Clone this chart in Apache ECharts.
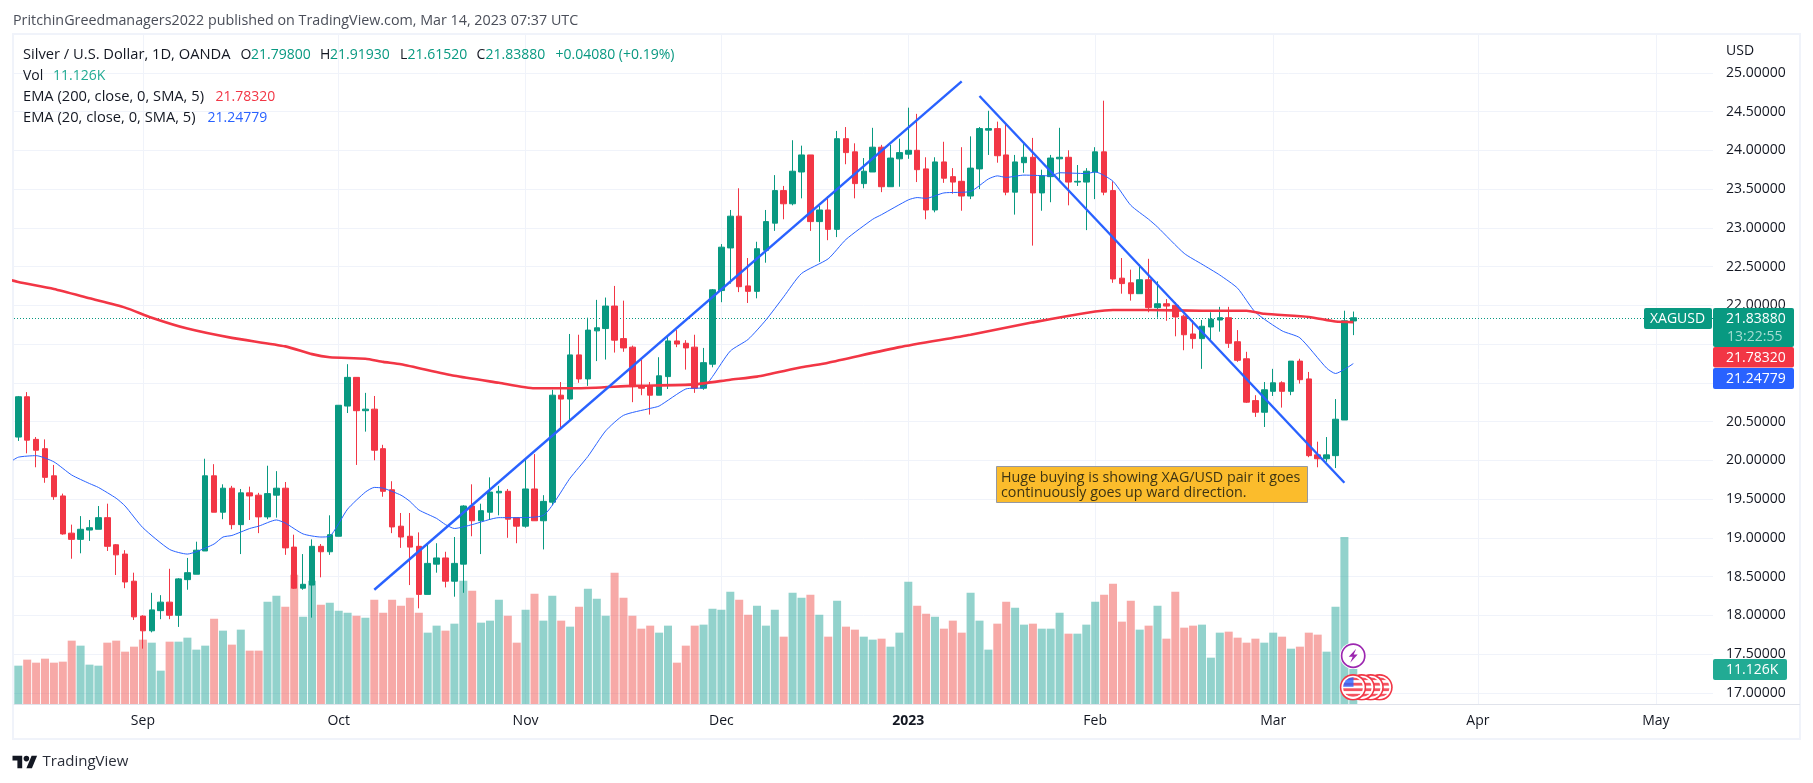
<!DOCTYPE html>
<html><head><meta charset="utf-8"><title>XAGUSD</title>
<style>html,body{margin:0;padding:0;background:#fff}#c{width:1813px;height:783px}</style>
<script src="https://cdn.jsdelivr.net/npm/echarts@6/dist/echarts.min.js"></script>
</head><body><div id="c"></div>
<script>
// [open, close, low, high]
const candles=[
[20.30,20.82,20.25,20.83],[20.82,20.26,20.09,20.88],[20.27,20.13,19.91,20.30],[20.15,19.78,19.71,20.27],[19.80,19.53,19.49,19.94],
[19.54,19.05,19.04,19.57],[19.06,18.98,18.73,19.17],[18.98,19.11,18.80,19.28],[19.10,19.13,18.96,19.23],[19.11,19.26,19.11,19.41],
[19.26,18.89,18.83,19.44],[18.91,18.78,18.52,18.92],[18.79,18.43,18.35,18.84],[18.44,17.98,17.94,18.55],[17.99,17.80,17.57,18.00],
[17.80,18.07,17.78,18.29],[18.06,18.17,17.95,18.26],[18.17,18.00,17.95,18.60],[18.00,18.47,17.85,18.48],[18.46,18.55,18.33,18.74],
[18.53,18.84,18.53,18.95],[18.83,19.80,18.83,20.02],[19.80,19.33,19.33,19.95],[19.33,19.64,19.24,19.69],[19.64,19.17,19.11,19.67],
[19.17,19.58,18.79,19.63],[19.58,19.54,19.23,19.66],[19.55,19.27,19.06,19.58],[19.27,19.57,19.24,19.93],[19.55,19.64,19.26,19.86],
[19.64,18.87,18.78,19.72],[18.88,18.35,18.34,19.04],[18.35,18.40,18.33,18.79],[18.39,18.89,17.97,18.98],[18.89,18.82,18.49,18.92],
[18.82,19.04,18.78,19.29],[19.02,20.71,19.02,20.71],[20.70,21.07,20.61,21.24],[21.07,20.64,19.94,21.07],[20.64,20.66,20.37,20.87],
[20.66,20.13,20.00,20.83],[20.15,19.60,19.53,20.20],[19.62,19.14,19.06,19.73],[19.15,19.01,18.87,19.32],[19.02,18.88,18.39,19.32],
[18.89,18.27,18.09,19.07],[18.27,18.67,18.27,18.92],[18.66,18.74,18.55,18.93],[18.74,18.44,18.36,18.82],[18.44,18.67,18.24,19.01],
[18.66,19.41,18.29,19.42],[19.41,19.22,19.02,19.69],[19.22,19.35,18.79,19.44],[19.33,19.59,19.23,19.78],[19.58,19.60,19.29,19.67],
[19.60,19.24,19.00,19.63],[19.26,19.15,18.93,19.26],[19.15,19.63,19.13,20.02],[19.63,19.22,19.22,20.08],[19.22,19.47,18.85,19.55],
[19.46,20.84,19.42,20.91],[20.84,20.79,20.39,21.01],[20.79,21.36,20.50,21.63],[21.36,21.05,21.00,21.62],[21.05,21.68,20.96,21.84],
[21.67,21.71,21.28,22.07],[21.70,21.99,21.30,22.10],[21.99,21.55,21.39,22.25],[21.57,21.45,21.40,22.06],[21.46,20.95,20.75,21.48],
[20.96,20.93,20.84,21.30],[20.96,20.84,20.59,21.01],[20.84,21.09,20.84,21.33],[21.08,21.54,20.92,21.60],[21.54,21.50,21.46,21.68],
[21.51,21.45,21.17,21.55],[21.46,20.93,20.87,21.62],[20.93,21.26,20.91,21.45],[21.24,22.20,21.20,22.21],[22.19,22.75,22.04,22.79],
[22.74,23.15,22.28,23.23],[23.15,22.24,22.17,23.51],[22.25,22.18,22.03,22.61],[22.18,22.73,22.09,22.82],[22.71,23.08,22.55,23.23],
[23.06,23.48,22.96,23.68],[23.48,23.31,23.11,23.54],[23.31,23.73,23.29,24.13],[23.72,23.94,23.38,24.06],[23.94,23.08,22.96,23.94],
[23.08,23.23,22.56,23.28],[23.23,22.98,22.84,23.41],[22.98,24.15,22.88,24.25],[24.15,23.97,23.82,24.30],[23.98,23.57,23.38,24.09],
[23.57,23.73,23.51,23.90],[23.72,24.04,23.72,24.29],[24.04,23.53,23.46,24.07],[23.53,23.90,23.53,24.07],[23.89,23.97,23.53,24.15],
[23.95,24.00,23.89,24.55],[24.00,23.75,23.59,24.47],[23.76,23.23,23.11,23.91],[23.23,23.85,23.20,23.91],[23.85,23.64,23.58,24.11],
[23.66,23.59,23.44,23.77],[23.60,23.41,23.22,24.04],[23.41,23.77,23.37,24.18],[23.76,24.28,23.50,24.30],[24.26,24.28,23.94,24.51],
[24.28,23.93,23.84,24.37],[23.94,23.46,23.42,24.35],[23.46,23.85,23.17,23.94],[23.84,23.91,23.71,24.08],[23.91,23.45,22.77,24.16],
[23.45,23.67,23.22,23.75],[23.66,23.90,23.33,23.94],[23.89,23.91,23.59,24.29],[23.91,23.59,23.29,24.00],[23.59,23.60,23.54,23.81],
[23.59,23.73,22.97,23.77],[23.72,23.98,23.37,24.04],[23.98,23.46,23.42,24.64],[23.48,22.34,22.29,23.60],[22.35,22.28,22.15,22.61],
[22.29,22.15,22.06,22.46],[22.15,22.33,22.15,22.53],[22.33,21.97,21.91,22.60],[21.97,22.02,21.84,22.31],[22.02,21.99,21.80,22.08],
[22.00,21.85,21.60,22.04],[21.86,21.62,21.42,21.88],[21.63,21.57,21.44,21.81],[21.57,21.73,21.18,21.81],[21.72,21.82,21.55,21.91],
[21.81,21.84,21.66,21.98],[21.84,21.51,21.45,21.98],[21.53,21.29,21.27,21.68],[21.31,20.75,20.74,21.40],[20.77,20.62,20.56,20.84],
[20.62,20.91,20.43,21.01],[20.89,21.00,20.83,21.18],[21.00,20.89,20.68,21.02],[20.89,21.28,20.84,21.28],[21.28,21.04,20.99,21.31],
[21.05,20.06,20.04,21.14],[20.07,20.02,19.91,20.24],[20.02,20.07,19.98,20.30],[20.06,20.53,19.90,20.79],[20.52,21.80,20.52,21.93],
[21.798,21.8388,21.6152,21.9193]];
// thousands of units
const volumes=[
12.19,14.10,13.14,14.41,13.14,13.46,20.14,18.55,12.51,12.19,19.50,20.14,16.64,18.23,20.46,19.50,10.60,19.82,19.82,21.09,
17.28,18.55,27.13,23.32,18.87,23.64,16.96,16.96,32.54,34.45,30.95,41.12,27.77,39.22,31.58,32.22,29.68,29.04,28.09,27.45,
33.17,29.04,33.17,31.27,33.81,29.04,22.68,24.91,23.32,25.54,39.22,36.04,25.86,26.50,33.17,28.09,19.50,30.00,35.08,26.50,
34.45,26.50,24.59,30.95,36.67,33.49,28.09,41.76,33.81,28.09,23.95,24.91,22.68,24.91,13.14,18.55,24.91,25.23,30.31,30.00,
35.72,33.17,28.40,31.27,24.91,30.00,21.41,35.40,33.81,34.76,28.40,21.41,32.86,24.59,23.64,21.41,20.46,20.77,18.23,22.68,
38.90,31.27,28.72,27.77,23.95,26.50,22.68,35.40,26.50,17.28,25.54,32.54,30.63,25.23,25.54,23.95,23.95,29.04,22.36,22.36,
25.23,32.54,34.76,38.26,26.18,32.86,23.64,24.91,31.27,20.77,35.72,24.27,24.91,25.23,14.73,22.68,23.00,21.09,19.50,20.77,
19.50,22.68,21.41,17.59,18.23,22.68,22.05,16.64,30.95,53.10,11.126];
// [bar index, value]
const ema200=[[-1,22.33],[0,22.30],[4,22.21],[8,22.09],[12,21.97],[15,21.84],[19,21.70],[24,21.58],[30,21.47],[33,21.37],[35,21.33],[39,21.31],[41,21.27],[43,21.24],[49,21.09],[54,21.00],[58,20.93],[63,20.93],[69,20.96],[76,20.98],[80,21.04],[83,21.08],[88,21.20],[91,21.26],[99,21.46],[107,21.62],[114,21.78],[121,21.92],[123,21.94],[127,21.94],[133,21.93],[138,21.93],[140,21.89],[145,21.85],[148,21.79],[150,21.7832]];
const ema20=[[-1,19.97],[0,20.04],[2,20.06],[4,19.98],[6,19.81],[8,19.70],[9,19.65],[11,19.51],[12,19.41],[14,19.13],[17,18.85],[19,18.79],[20,18.82],[22,18.92],[23,19.01],[24,19.03],[26,19.12],[27,19.15],[29,19.23],[30,19.19],[32,19.05],[34,19.01],[35,19.02],[37,19.37],[39,19.59],[40,19.65],[41,19.64],[43,19.55],[44,19.47],[45,19.36],[47,19.25],[48,19.17],[49,19.12],[51,19.17],[54,19.26],[56,19.26],[59,19.29],[62,19.77],[64,20.05],[66,20.38],[68,20.58],[71,20.67],[72,20.70],[75,20.92],[77,20.94],[78,21.08],[80,21.41],[82,21.56],[84,21.81],[86,22.11],[88,22.41],[91,22.60],[93,22.85],[96,23.11],[97,23.17],[100,23.36],[101,23.39],[102,23.38],[104,23.45],[107,23.47],[109,23.63],[110,23.67],[111,23.65],[113,23.68],[116,23.67],[117,23.71],[120,23.70],[121,23.72],[123,23.60],[125,23.29],[127,23.11],[128,23.01],[131,22.67],[133,22.53],[135,22.39],[137,22.22],[139,21.91],[142,21.67],[144,21.58],[147,21.19],[148,21.12],[150,21.24779]];
const trendUp=[[40,18.33],[106,24.89]];
const trendDown=[[108,24.70],[149,19.71]];
const monthTickIdx=[14,36,57,79,100,121,141,164,184];
const monthTickLabels=['Sep','Oct','Nov','Dec','2023','Feb','Mar','Apr','May'];
const priceTicks=[17,17.5,18,18.5,19,19.5,20,20.5,21,21.5,22,22.5,23,23.5,24,24.5,25];
const lastPriceLine=21.8295;
const headerText='PritchinGreedmanagers2022 published on TradingView.com, Mar 14, 2023 07:37 UTC';
const noteLines=['Huge buying is showing XAG/USD pair it goes','continuously goes up ward direction.'];

const UP='#089981',DOWN='#F23645',GRID='#F0F3FA',INK='#131722',FONT='"Open Sans"';
const xMin=-0.483,xMax=190.416,priceMin=16.8555,priceMax=25.4877,volMax=212.7;

const volData=volumes.map((v,i)=>({value:[i,v],itemStyle:{color:candles[i][1]>=candles[i][0]?'rgba(38,166,154,0.5)':'rgba(239,83,80,0.5)'}}));
const candleData=candles.map((c,i)=>[i,c[0],c[1],c[2],c[3]]);

function txt(text,x,y,fill,size,extra){return Object.assign({type:'text',z:100,silent:true,style:Object.assign({text,x,y:y+1,fill,font:(size||14)+'px '+FONT,textVerticalAlign:'middle'},extra||{})});}
function tag(x,y,w,h,fill){return {type:'rect',z:90,silent:true,shape:{x,y,width:w,height:h,r:2},style:{fill}};}

const flagSvg='<svg xmlns="http://www.w3.org/2000/svg" width="54" height="54" viewBox="0 0 27 27"><circle cx="13.5" cy="13.5" r="13.2" fill="#F23645"/><circle cx="13.5" cy="13.5" r="11.6" fill="#fff"/><clipPath id="a"><circle cx="13.5" cy="13.5" r="10"/></clipPath><g clip-path="url(#a)"><rect width="27" height="27" fill="#fff"/><g fill="#F23645" opacity=".85"><rect y="3.5" width="27" height="2.8"/><rect y="9" width="27" height="2.8"/><rect y="14.5" width="27" height="2.8"/><rect y="20" width="27" height="2.8"/></g><rect x="3" y="3" width="11" height="10" fill="#2962FF" opacity=".8"/></g></svg>';
const boltSvg='<svg xmlns="http://www.w3.org/2000/svg" width="54" height="54" viewBox="0 0 27 27"><circle cx="13.5" cy="13.5" r="13.3" fill="#fff"/><circle cx="13.5" cy="13.5" r="11.6" fill="#fff" stroke="#9C27B0" stroke-width="1.7"/><path d="M16.5 6.5 L9 14.6 H13 L10.5 20.5 L18 12.4 H14 Z" fill="#9C27B0"/></svg>';
const uri=s=>'data:image/svg+xml,'+encodeURIComponent(s);
const flagImg=x=>({type:'image',z:95,silent:true,style:{image:uri(flagSvg),x,y:673.8,width:27,height:27}});

const graphics=[
 {type:'rect',z:0,silent:true,shape:{x:13,y:34,width:1787,height:705},style:{fill:'none',stroke:GRID,lineWidth:2}},
 {type:'line',z:1,silent:true,shape:{x1:1713,y1:704.5,x2:1800,y2:704.5},style:{stroke:'#E0E3EB',lineWidth:1}},
 txt(headerText,13,20,'#4A4E59',14.3),
 txt('Silver / U.S. Dollar, 1D, OANDA',23,54,INK,14.7),
 txt('O',240.5,54,INK,14),txt('21.79800',251,54,UP,14),
 txt('H',320,54,INK,14),txt('21.91930',330,54,UP,14),
 txt('L',400,54,INK,14),txt('21.61520',407.5,54,UP,14),
 txt('C',476.5,54,INK,14),txt('21.83880',485.5,54,UP,14),
 txt('+0.04080 (+0.19%)',555.5,54,UP,14),
 txt('Vol',23,75,INK,14),txt('11.126K',53,75,'#22AB94',14),
 txt('EMA (200, close, 0, SMA, 5)',23,96,INK,14.7),txt('21.78320',215.5,96,DOWN,14),
 txt('EMA (20, close, 0, SMA, 5)',23,117,INK,14.7),txt('21.24779',207.5,117,'#2962FF',14),
 txt('USD',1726,50.5,INK,14),
 tag(1644,308,68,21,UP),txt('XAGUSD',1650,318.5,'#fff',14),
 tag(1713,308,81,39,UP),txt('21.83880',1726,318.5,'#fff',14),txt('13:22:55',1727,336.5,'#A8DDD3',14),
 tag(1713,347,81,20.5,DOWN),txt('21.78320',1726,357,'#fff',14),
 tag(1713,368,81,21,'#2962FF'),txt('21.24779',1726,378.5,'#fff',14),
 tag(1713,659,74,21,'#22AB94'),txt('11.126K',1726,669.5,'#fff',14),
 {type:'rect',z:90,silent:true,shape:{x:996.5,y:466.5,width:311,height:36},style:{fill:'#FBBC2C',stroke:'#9598A1',lineWidth:1}},
 txt(noteLines[0],1001,476.7,'#3D3413',14.3),txt(noteLines[1],1001,491.7,'#3D3413',14.3),
 flagImg(1366),flagImg(1357.1),flagImg(1348.2),flagImg(1339.5),
 {type:'image',z:96,silent:true,style:{image:uri(boltSvg),x:1339.7,y:642.2,width:27,height:27}},
 {type:'polygon',z:100,silent:true,shape:{points:[[22.2,768.3],[17.4,768.3],[17.4,760.6],[12.5,760.6],[12.5,755.8],[22.2,755.8]]},style:{fill:'#131722'}},
 {type:'polygon',z:100,silent:true,shape:{points:[[31.9,768.3],[26.4,768.3],[31.6,755.8],[37.1,755.8]]},style:{fill:'#131722'}},
 {type:'circle',z:100,silent:true,shape:{cx:26.4,cy:758.6,r:2.8},style:{fill:'#131722'}},
 txt('TradingView',42.5,760.5,'#2A2E39',15)
];

const option={
 animation:false,backgroundColor:'#fff',
 textStyle:{fontFamily:FONT},
 grid:{left:14,right:100,top:35,bottom:79,containLabel:false},
 xAxis:{type:'value',min:xMin,max:xMax,
  axisLine:{show:true,lineStyle:{color:'#E0E3EB'},onZero:false},
  axisTick:{show:false,customValues:monthTickIdx},
  splitLine:{show:true,lineStyle:{color:GRID,width:1}},
  axisLabel:{customValues:monthTickIdx,margin:10,color:INK,fontSize:14,fontFamily:FONT,
   formatter:v=>{const s=monthTickLabels[monthTickIdx.indexOf(v)];return s==='2023'?'{b|2023}':s;},
   rich:{b:{fontWeight:'bold',fontSize:14,color:INK,fontFamily:FONT}}}},
 yAxis:[
  {type:'value',position:'right',min:priceMin,max:priceMax,
   axisLine:{show:false},axisTick:{show:false,customValues:priceTicks},
   splitLine:{show:true,lineStyle:{color:GRID,width:1}},
   axisLabel:{customValues:priceTicks,margin:13,color:INK,fontSize:14,fontFamily:FONT,padding:[2,0,0,0],formatter:v=>v.toFixed(5)}},
  {type:'value',min:0,max:volMax,show:false,splitLine:{show:false}}
 ],
 series:[
  {type:'bar',name:'Vol',yAxisIndex:1,data:volData,barWidth:8,z:1,silent:true},
  {type:'line',name:'Last',data:[[xMin,lastPriceLine],[xMax,lastPriceLine]],showSymbol:false,silent:true,z:2,lineStyle:{color:UP,width:1,type:[1,2]}},
  {type:'candlestick',name:'XAGUSD',data:candleData,barWidth:6,z:3,silent:true,
   itemStyle:{color:UP,color0:DOWN,borderColor:UP,borderColor0:DOWN,borderWidth:1}},
  {type:'line',name:'EMA 20',data:ema20,showSymbol:false,silent:true,z:4,smooth:0.2,lineStyle:{color:'#2962FF',width:1,opacity:1}},
  {type:'line',name:'EMA 200',data:ema200,showSymbol:false,silent:true,z:4,smooth:0.2,lineStyle:{color:DOWN,width:2.6,opacity:1}},
  {type:'line',name:'Trend up',data:trendUp,showSymbol:false,silent:true,z:5,lineStyle:{color:'#2962FF',width:2.4}},
  {type:'line',name:'Trend down',data:trendDown,showSymbol:false,silent:true,z:5,lineStyle:{color:'#2962FF',width:2.4}}
 ],
 graphic:{elements:graphics}
};
const chart=echarts.init(document.getElementById('c'),null,{renderer:'canvas'});
chart.setOption(option);
</script></body></html>
